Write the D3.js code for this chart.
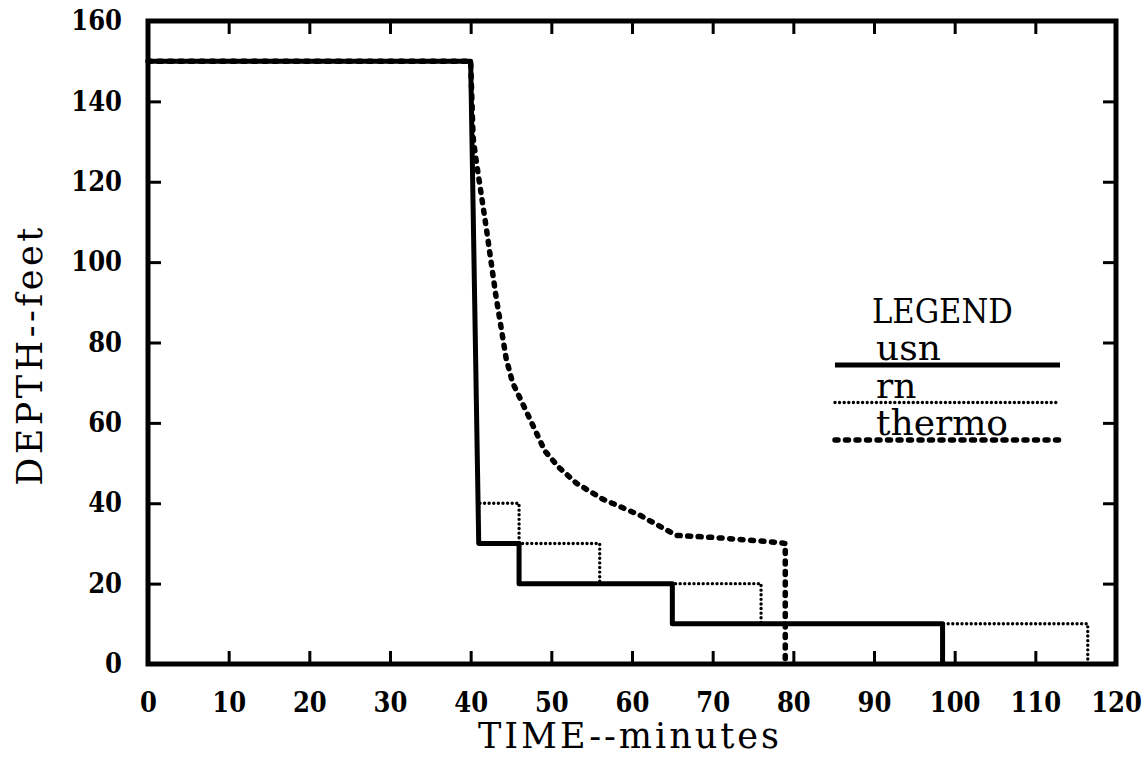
<!DOCTYPE html>
<html>
<head>
<meta charset="utf-8">
<script src="https://cdn.jsdelivr.net/npm/d3@7"></script>
<style>
  body { margin: 0; background: #fff; }
  svg { display: block; }
  .tick text { font-family: "DejaVu Serif Condensed", "DejaVu Serif", serif; font-weight: bold; font-size: 27px; fill: #000; }
  .tick line { stroke: #000; stroke-width: 3; }
</style>
</head>
<body>
<svg id="chart" width="1146" height="758"></svg>
<script>
const width = 1146;
const height = 758;

// Tick values
const timeTicks = [0, 10, 20, 30, 40, 50, 60, 70, 80, 90, 100, 110, 120];
const depthTicks = [0, 20, 40, 60, 80, 100, 120, 140, 160];

// usn profile (solid)
const usnTime  = [0, 40, 41, 46, 46, 65, 65, 98.5, 98.5];
const usnDepth = [150, 150, 30, 30, 20, 20, 10, 10, 0];

// rn profile (fine dots)
const rnTime  = [0, 40, 41, 41, 46, 46, 56, 56, 76, 76, 116.5, 116.5];
const rnDepth = [150, 150, 30, 40, 40, 30, 30, 20, 20, 10, 10, 0];

// thermo profile (coarse dots)
const thermoTime  = [0, 40, 40.3, 40.7, 41.9, 43.1, 44.4, 45.2, 47.1, 49.2, 50.9, 53.1, 56.4, 61, 65.5, 70, 76.7, 79, 79];
const thermoDepth = [150, 150, 131, 125, 109, 92, 76, 70, 62, 53, 49, 45, 41, 37, 32, 31.5, 30.5, 30, 0];

const legendLabels = ["usn", "rn", "thermo"];

const margin = {left: 148, right: 30, top: 21, bottom: 94};

const x = d3.scaleLinear().domain([0, 120]).range([margin.left, width - margin.right]);
const y = d3.scaleLinear().domain([0, 160]).range([height - margin.bottom, margin.top]);

const svg = d3.select("#chart");

const styles = {
  usn:    {width: 5,   dash: null,    cap: "butt"},
  rn:     {width: 3.4, dash: "0 4.6", cap: "round"},
  thermo: {width: 5.5, dash: "3 7.5", cap: "round"}
};

function toPoints(times, depths) {
  return times.map((t, i) => [t, depths[i]]);
}

const series = [
  {name: "thermo", pts: toPoints(thermoTime, thermoDepth)},
  {name: "rn",     pts: toPoints(rnTime, rnDepth)},
  {name: "usn",    pts: toPoints(usnTime, usnDepth)}
];

// inward ticks on all four sides
svg.append("g")
    .attr("transform", `translate(0,${y(0)})`)
    .call(d3.axisBottom(x).tickValues(timeTicks).tickSize(-13).tickPadding(29))
    .call(g => g.select(".domain").remove());

svg.append("g")
    .attr("transform", `translate(0,${y(160)})`)
    .call(d3.axisTop(x).tickValues(timeTicks).tickSize(-13).tickFormat(""))
    .call(g => g.select(".domain").remove());

svg.append("g")
    .attr("transform", `translate(${x(0)},0)`)
    .call(d3.axisLeft(y).tickValues(depthTicks).tickSize(-13).tickPadding(26))
    .call(g => g.select(".domain").remove());

svg.append("g")
    .attr("transform", `translate(${x(120)},0)`)
    .call(d3.axisRight(y).tickValues(depthTicks).tickSize(-13).tickFormat(""))
    .call(g => g.select(".domain").remove());

// the frame
svg.append("rect")
    .attr("x", x(0))
    .attr("y", y(160))
    .attr("width", x(120) - x(0))
    .attr("height", y(0) - y(160))
    .attr("fill", "none")
    .attr("stroke", "#000")
    .attr("stroke-width", 5);

const line = d3.line()
    .x(d => x(d[0]))
    .y(d => y(d[1]));

svg.append("g")
  .selectAll("path")
  .data(series)
  .join("path")
    .attr("d", d => line(d.pts))
    .attr("fill", "none")
    .attr("stroke", "#000")
    .attr("stroke-width", d => styles[d.name].width)
    .attr("stroke-dasharray", d => styles[d.name].dash)
    .attr("stroke-linecap", d => styles[d.name].cap)
    .attr("stroke-linejoin", "round");

// axis titles
svg.append("text")
    .attr("x", 630)
    .attr("y", 748)
    .attr("text-anchor", "middle")
    .attr("font-family", "DejaVu Serif, serif")
    .attr("font-size", 35)
    .attr("letter-spacing", 3)
    .text("TIME--minutes");

svg.append("text")
    .attr("transform", "translate(42,355) rotate(-90)")
    .attr("text-anchor", "middle")
    .attr("font-family", "DejaVu Serif, serif")
    .attr("font-size", 35)
    .attr("letter-spacing", 3.5)
    .text("DEPTH--feet");

// legend
const legend = svg.append("g")
    .attr("font-family", "DejaVu Serif, serif");

legend.append("text")
    .attr("x", 872)
    .attr("y", 323)
    .attr("font-family", "DejaVu Serif Condensed, DejaVu Serif, serif")
    .attr("font-size", 34)
    .text("LEGEND");

const legendRow = legend.selectAll("g.row")
  .data(legendLabels)
  .join("g")
    .attr("class", "row")
    .attr("transform", (d, i) => `translate(0,${365 + i * 37.5})`);

legendRow.append("line")
    .attr("x1", 835)
    .attr("x2", 1060)
    .attr("stroke", "#000")
    .attr("stroke-width", d => styles[d].width)
    .attr("stroke-dasharray", d => styles[d].dash)
    .attr("stroke-linecap", d => styles[d].cap);

legendRow.append("text")
    .attr("x", 876)
    .attr("y", -5)
    .attr("font-size", 36)
    .text(d => d);
</script>
</body>
</html>
